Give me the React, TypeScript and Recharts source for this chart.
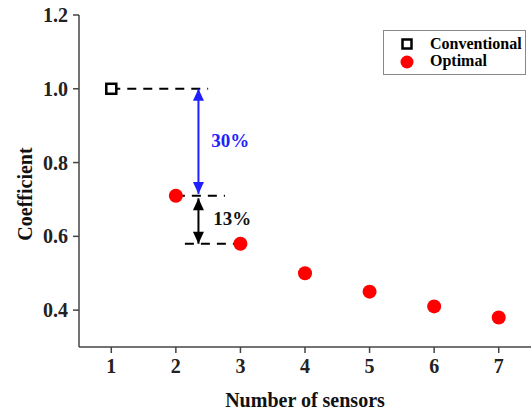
import {
  ReferenceDot,
  ReferenceLine,
  Scatter,
  ScatterChart,
  XAxis,
  YAxis,
} from "recharts";

const conventional = [{ n: 1, c: 1.0 }];
const optimal = [
  { n: 2, c: 0.71 },
  { n: 3, c: 0.58 },
  { n: 4, c: 0.5 },
  { n: 5, c: 0.45 },
  { n: 6, c: 0.41 },
  { n: 7, c: 0.38 },
];
const xTicks = [1, 2, 3, 4, 5, 6, 7];
const yTicks = [0.4, 0.6, 0.8, 1.0, 1.2];

// guide lines and arrows (data coords)
const dashes = [
  { x1: 1, x2: 2.5, y: 1.0 },
  { x1: 2, x2: 2.76, y: 0.71 },
  { x1: 2.14, x2: 3, y: 0.58 },
];
const arrowX = 2.35;
const blueArrow = { from: 1.0, to: 0.715, label: "30%" };
const blackArrow = { from: 0.703, to: 0.58, label: "13%" };

const FONT = "'Liberation Serif', 'Times New Roman', serif";
const BLUE = "#1f1fff";
const RED = "#ff0000";

function Square(props: any) {
  const { cx, cy } = props;
  return <rect x={cx - 5} y={cy - 5} width={10} height={10} fill="#fff" stroke="#000" strokeWidth={2.5} />;
}

function Dot(props: any) {
  const { cx, cy } = props;
  return <circle cx={cx} cy={cy} r={7} fill={RED} />;
}

function Head(color: string, up: boolean) {
  return (props: any) => {
    const { cx, cy } = props;
    const d = up ? 12 : -12;
    return <polygon points={`${cx},${cy} ${cx - 5.5},${cy + d} ${cx + 5.5},${cy + d}`} fill={color} />;
  };
}

function Txt(text: string, color: string) {
  return (props: any) => (
    <text
      x={props.cx}
      y={props.cy}
      fill={color}
      fontFamily={FONT}
      fontWeight="bold"
      fontSize={19}
      dominantBaseline="middle"
    >
      {text}
    </text>
  );
}

function LegendBox() {
  return (
    <div
      style={{
        position: "absolute",
        left: 383,
        top: 30,
        border: "1px solid #888",
        width: 143,
        height: 45,
        fontFamily: FONT,
        fontWeight: "bold",
        fontSize: 16,
        color: "#111",
        boxSizing: "border-box",
      }}
    >
      <svg width={141} height={43} style={{ position: "absolute", left: 0, top: 0 }}>
        <rect x={18.5} y={8.5} width={9} height={9} fill="#fff" stroke="#000" strokeWidth={2.5} />
        <circle cx={23} cy={31} r={6.5} fill={RED} />
        <text x={46} y={14} dominantBaseline="middle">Conventional</text>
        <text x={46} y={31} dominantBaseline="middle">Optimal</text>
      </svg>
    </div>
  );
}

const tickStyle = { fontFamily: FONT, fontWeight: "bold", fontSize: 20, fill: "#222" };

export default function App() {
  return (
    <div style={{ width: 532, height: 416, background: "#fff", position: "relative" }}>
      <style>{`body{margin:0}`}</style>
      <ScatterChart width={532} height={416} margin={{ top: 15, right: 1, bottom: 29, left: 19 }}>
        <XAxis
          type="number"
          dataKey="n"
          domain={[0.5, 7.5]}
          ticks={xTicks}
          tick={tickStyle}
          tickSize={6}
          tickMargin={6}
          height={40}
          stroke="#444"
          strokeWidth={1.5}
          label={{
            value: "Number of sensors",
            position: "bottom",
            offset: 6,
            style: { fontFamily: FONT, fontWeight: "bold", fontSize: 20, fill: "#111" },
          }}
        />
        <YAxis
          type="number"
          dataKey="c"
          domain={[0.3, 1.2]}
          ticks={yTicks}
          tickFormatter={(v: number) => v.toFixed(1)}
          tick={tickStyle}
          tickSize={6}
          tickMargin={5}
          width={60}
          stroke="#444"
          strokeWidth={1.5}
          label={{
            value: "Coefficient",
            angle: -90,
            position: "insideLeft",
            offset: 6,
            dy: 13,
            style: { fontFamily: FONT, fontWeight: "bold", fontSize: 20, fill: "#111", textAnchor: "middle" },
          }}
        />
        {dashes.map((d, i) => (
          <ReferenceLine
            key={i}
            segment={[
              { x: d.x1, y: d.y },
              { x: d.x2, y: d.y },
            ]}
            stroke="#000"
            strokeWidth={2}
            strokeDasharray="9 7"
            ifOverflow="visible"
          />
        ))}
        <ReferenceLine
          segment={[
            { x: arrowX, y: blueArrow.from },
            { x: arrowX, y: blueArrow.to },
          ]}
          stroke={BLUE}
          strokeWidth={2}
        />
        <ReferenceLine
          segment={[
            { x: arrowX, y: blackArrow.from },
            { x: arrowX, y: blackArrow.to },
          ]}
          stroke="#000"
          strokeWidth={2}
        />
        <ReferenceDot x={arrowX} y={blueArrow.from} shape={Head(BLUE, true)} />
        <ReferenceDot x={arrowX} y={blueArrow.to} shape={Head(BLUE, false)} />
        <ReferenceDot x={arrowX} y={blackArrow.from} shape={Head("#000", true)} />
        <ReferenceDot x={arrowX} y={blackArrow.to} shape={Head("#000", false)} />
        <ReferenceDot x={2.55} y={0.855} shape={Txt(blueArrow.label, BLUE)} />
        <ReferenceDot x={2.58} y={0.642} shape={Txt(blackArrow.label, "#111")} />
        <Scatter name="Conventional" data={conventional} shape={Square} isAnimationActive={false} />
        <Scatter name="Optimal" data={optimal} shape={Dot} isAnimationActive={false} />
      </ScatterChart>
      <LegendBox />
    </div>
  );
}
